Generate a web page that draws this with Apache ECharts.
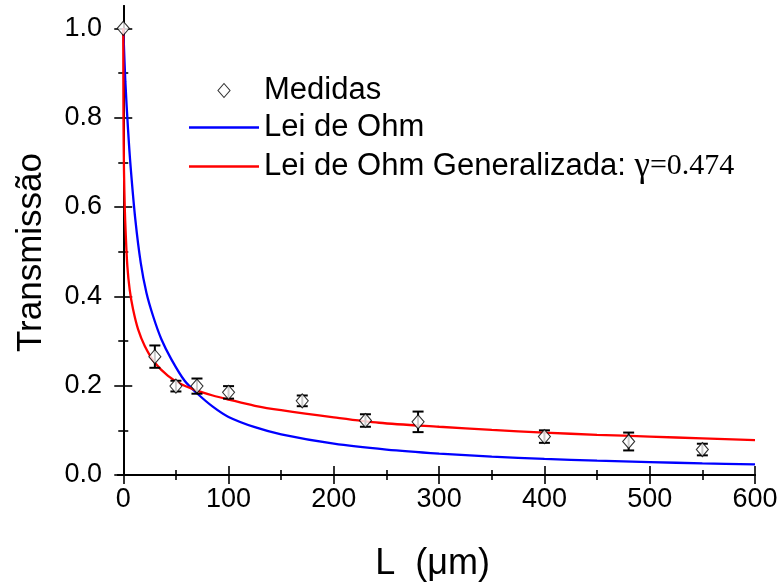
<!DOCTYPE html>
<html><head><meta charset="utf-8">
<script src="https://cdn.jsdelivr.net/npm/echarts@6/dist/echarts.min.js"></script>
<style>html,body{margin:0;padding:0;background:#fff}#c{width:781px;height:587px}</style>
</head><body><div id="c"></div>
<script>
// Measured points (diamonds) with error bars
const measL   = [0, 30, 50, 70, 100, 170, 230, 280, 400, 480, 550];
const measT   = [1.0, 0.265, 0.199, 0.199, 0.185, 0.166, 0.122, 0.119, 0.086, 0.075, 0.057];
const measErr = [0, 0.025, 0.012, 0.017, 0.014, 0.012, 0.014, 0.023, 0.014, 0.020, 0.013];

// Ohm's law curve
const ohmL = [0, 2, 4.5, 7, 11.5, 16.6, 22, 28.3, 36.2, 45.7, 58.3, 70, 85, 100, 125, 150, 200, 250, 300, 350, 400, 450, 500, 550, 600];
const ohmT = [1.0, 0.88, 0.775, 0.69, 0.571, 0.475, 0.408, 0.356, 0.304, 0.259, 0.211, 0.183, 0.153, 0.130, 0.107, 0.091, 0.070, 0.057, 0.048, 0.041, 0.036, 0.032, 0.029, 0.026, 0.024];

// Generalized Ohm's law curve
const genL = [0, 0.2, 0.7, 1.4, 2.3, 3.9, 6.1, 9.3, 14.1, 20.4, 29.8, 42.5, 55.2, 70, 85, 100, 125, 150, 200, 243, 300, 350, 400, 450, 500, 550, 600];
const genT = [1.0, 0.80, 0.68, 0.60, 0.542, 0.467, 0.415, 0.371, 0.326, 0.289, 0.252, 0.222, 0.203, 0.189, 0.178, 0.169, 0.155, 0.145, 0.129, 0.117, 0.108, 0.101, 0.095, 0.090, 0.086, 0.082, 0.078];

// Axis ticks
const xTickLabels = [0, 100, 200, 300, 400, 500, 600];
const xMinorTicks = [50, 150, 250, 350, 450, 550];
const yTickLabels = [0, 0.2, 0.4, 0.6, 0.8, 1.0];
const yMinorTicks = [0.1, 0.3, 0.5, 0.7, 0.9];

const nameMeas = 'Medidas';
const nameOhm = 'Lei de Ohm';
const nameGen = 'Lei de Ohm Generalizada: γ=0.474';

const FONT = '"Liberation Sans", Arial, sans-serif';
const SERIF = '"Liberation Serif", "Times New Roman", serif';

const zip = (a, b) => a.map((v, i) => [v, b[i]]);

const chart = echarts.init(document.getElementById('c'), null, {renderer: 'canvas'});

const lineBase = {show: true, lineStyle: {color: '#000', width: 2}};
const majTick = (vals) => ({show: true, inside: true, length: 9, customValues: vals, lineStyle: {color: '#000', width: 1.6}});
const minTick = (vals) => ({show: true, inside: true, length: 5, customValues: vals, lineStyle: {color: '#000', width: 1.6}});
const X_MIN = -5, X_MAX = 600, Y_MIN = 0, Y_MAX = 1.05;

const xCommon = {type: 'value', min: X_MIN, max: X_MAX, splitLine: {show: false}};
const yCommon = {type: 'value', min: Y_MIN, max: Y_MAX, splitLine: {show: false}};

const lineIcon = 'path://M0,0H70V2.3H0Z';
const diamondIcon = 'path://M6,0L12,7L6,14L0,7Z';

chart.setOption({
  animation: false,
  backgroundColor: '#fff',
  grid: {left: 118, right: 26, top: 6, bottom: 110.5, containLabel: false},
  xAxis: [
    Object.assign({}, xCommon, {
      position: 'bottom', axisLine: lineBase, axisTick: majTick(xTickLabels),
      axisLabel: {show: true, customValues: xTickLabels, margin: 11, fontFamily: FONT, fontSize: 27, color: '#000'},
      name: 'L  (μm)', nameLocation: 'middle', nameGap: 71,
      nameTextStyle: {fontFamily: FONT, fontSize: 36, color: '#000', padding: [0, 8, 0, 0]}
    }),
    Object.assign({}, xCommon, {position: 'bottom', axisLine: {show: false}, axisTick: minTick(xMinorTicks), axisLabel: {show: false}}),
    Object.assign({}, xCommon, {position: 'top', axisLine: lineBase, axisTick: majTick(xTickLabels), axisLabel: {show: false}}),
    Object.assign({}, xCommon, {position: 'top', axisLine: {show: false}, axisTick: minTick(xMinorTicks), axisLabel: {show: false}})
  ],
  yAxis: [
    Object.assign({}, yCommon, {
      position: 'left', axisLine: lineBase, axisTick: majTick(yTickLabels),
      axisLabel: {show: true, customValues: yTickLabels, margin: 16, fontFamily: FONT, fontSize: 27, color: '#000',
        formatter: v => v.toFixed(1)},
      name: 'Transmissão', nameLocation: 'middle', nameGap: 69,
      nameTextStyle: {fontFamily: FONT, fontSize: 35, color: '#000', padding: [0, 24, 0, 0]}
    }),
    Object.assign({}, yCommon, {position: 'left', axisLine: {show: false}, axisTick: minTick(yMinorTicks), axisLabel: {show: false}}),
    Object.assign({}, yCommon, {position: 'right', axisLine: lineBase, axisTick: majTick(yTickLabels), axisLabel: {show: false}}),
    Object.assign({}, yCommon, {position: 'right', axisLine: {show: false}, axisTick: minTick(yMinorTicks), axisLabel: {show: false}})
  ],
  legend: {
    orient: 'vertical', left: 189, top: 75, padding: 0, itemWidth: 70, itemHeight: 14, itemGap: 6,
    selectedMode: false, symbolKeepAspect: true,
    data: [
      {name: nameMeas, icon: diamondIcon, itemStyle: {color: '#fff', borderColor: '#000', borderWidth: 1.1}},
      {name: nameOhm, icon: lineIcon, itemStyle: {color: '#0000ff', borderWidth: 0}},
      {name: nameGen, icon: lineIcon, itemStyle: {color: '#ff0000', borderWidth: 0}}
    ],
    textStyle: {fontFamily: FONT, fontSize: 31, color: '#000', lineHeight: 31,
      rich: {
        g: {fontFamily: SERIF, fontSize: 35, color: '#000', lineHeight: 31},
        s: {fontFamily: SERIF, fontSize: 30, color: '#000', lineHeight: 31}
      }},
    formatter: n => n === nameGen ? 'Lei de Ohm Generalizada: {g|γ}{s|=0.474}' : n
  },
  series: [
    {
      name: nameOhm, type: 'line', data: zip(ohmL, ohmT), smooth: 0.3,
      symbol: 'none', showSymbol: false, lineStyle: {color: '#0000ff', width: 2.3}, itemStyle: {color: '#0000ff'}, z: 2
    },
    {
      name: nameGen, type: 'line', data: zip(genL, genT), smooth: 0.3,
      symbol: 'none', showSymbol: false, lineStyle: {color: '#ff0000', width: 2.3}, itemStyle: {color: '#ff0000'}, z: 3
    },
    {
      name: 'err', type: 'custom', z: 4,
      data: measL.map((l, i) => [l, measT[i] - measErr[i], measT[i] + measErr[i]]),
      renderItem: (params, api) => {
        const lo = api.value(1), hi = api.value(2);
        if (hi - lo <= 0) return null;
        const p1 = api.coord([api.value(0), lo]);
        const p2 = api.coord([api.value(0), hi]);
        const w = 5.5;
        const st = {stroke: '#000', lineWidth: 2};
        return {type: 'group', children: [
          {type: 'line', shape: {x1: p1[0], y1: p1[1], x2: p2[0], y2: p2[1]}, style: st},
          {type: 'line', shape: {x1: p1[0] - w, y1: p1[1], x2: p1[0] + w, y2: p1[1]}, style: st},
          {type: 'line', shape: {x1: p2[0] - w, y1: p2[1], x2: p2[0] + w, y2: p2[1]}, style: st}
        ]};
      }
    },
    {
      name: nameMeas, type: 'scatter', data: zip(measL, measT), symbol: 'diamond', symbolSize: [12, 14],
      itemStyle: {color: '#fff', borderColor: '#000', borderWidth: 1.1}, z: 5
    }
  ]
});
</script>
</body></html>
